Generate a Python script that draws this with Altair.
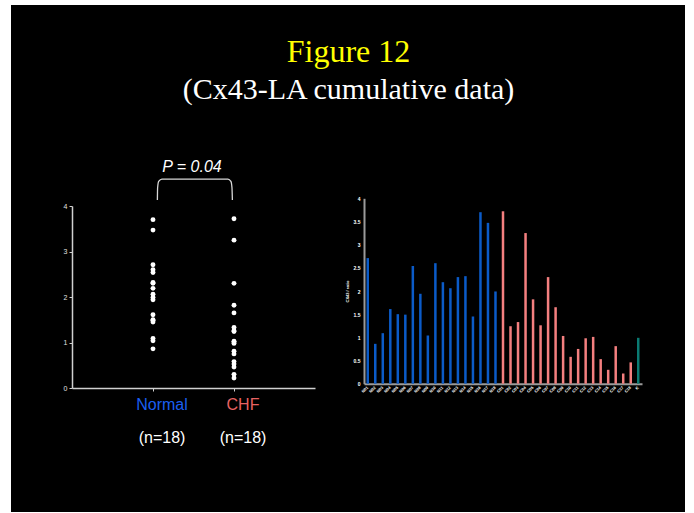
import altair as alt
import pandas as pd

# ---------------- data ----------------
normal_vals = [2.71, 0.86, 1.09, 1.61, 1.50, 1.49, 2.54, 1.94, 1.04,
               2.60, 2.19, 2.06, 2.30, 2.32, 1.45, 3.70, 3.47, 1.99]
chf_vals = [3.72, 1.24, 1.33, 3.25, 1.82, 1.26, 2.30, 1.65, 1.03,
            0.58, 0.75, 0.98, 1.01, 0.53, 0.30, 0.81, 0.22, 0.46]
control_vals = [0.99]
group_names = ["Normal", "CHF"]
group_counts = ["(n=18)", "(n=18)"]
scatter_ticks = [0, 1, 2, 3, 4]
bar_ticks = [0, 0.5, 1, 1.5, 2, 2.5, 3, 3.5, 4]
normal_ids = ["N%02d" % (i + 1) for i in range(len(normal_vals))]
chf_ids = ["C%02d" % (i + 1) for i in range(len(chf_vals))]
control_ids = ["K"]
cohorts = ["Normal", "CHF", "Control"]
cohort_colors = ["#0b5bc8", "#f47f7f", "#0a7a72"]
p_label = "P = 0.04"
title_text = "Figure 12"
subtitle_text = "(Cx43-LA cumulative data)"

# bracket outline (fraction of the Normal->CHF gap, value units)
bracket_x = [0.054, 0.057, 0.07, 0.11, 0.925, 0.962, 0.975, 0.98]
bracket_y = [4.13, 4.40, 4.54, 4.59, 4.59, 4.54, 4.40, 4.13]

# ---------------- tables ----------------
scatter_df = pd.DataFrame({
    "group": ["Normal"] * len(normal_vals) + ["CHF"] * len(chf_vals),
    "value": normal_vals + chf_vals,
})
label_df = pd.DataFrame({"group": group_names, "count": group_counts})
bar_ids = normal_ids + chf_ids + control_ids
bar_df = pd.DataFrame({
    "id": bar_ids,
    "value": normal_vals + chf_vals + control_vals,
    "cohort": ["Normal"] * len(normal_vals) + ["CHF"] * len(chf_vals)
              + ["Control"] * len(control_vals),
})
bracket_df = pd.DataFrame({"bx": bracket_x, "by": bracket_y,
                           "o": list(range(len(bracket_x)))})

W, H = 674, 507

# ---------------- left: scatter ----------------
xs = alt.Scale(domain=group_names, range=[61, 304], padding=1)
ys = alt.Scale(domain=[0, 4], range=[383, 201], nice=False, zero=False)

pts = alt.Chart(scatter_df).mark_circle(size=24, color="white", opacity=1).encode(
    x=alt.X("group:N", sort=group_names, scale=xs,
            axis=alt.Axis(orient="bottom", offset=-124, labels=False, title=None,
                          domainColor="#d0d0d0", domainWidth=1.5, tickColor="#d0d0d0",
                          tickSize=3, grid=False)),
    y=alt.Y("value:Q", scale=ys,
            axis=alt.Axis(orient="left", offset=-61, values=scatter_ticks, format="d",
                          title=None, labelColor="#e0e0e0", labelFontSize=7,
                          labelFont="Liberation Sans", labelPadding=2,
                          domainColor="#d0d0d0", domainWidth=1.5, tickColor="#d0d0d0",
                          tickSize=3, grid=False)),
)

names = alt.Chart(label_df).mark_text(fontSize=16, font="Liberation Sans", dx=9,
                                      baseline="middle").encode(
    x=alt.X("group:N", sort=group_names, scale=xs, axis=None),
    y=alt.value(400),
    text="group:N",
    color=alt.Color("group:N", scale=alt.Scale(domain=group_names,
                                               range=["#1a5ff0", "#e86262"]), legend=None),
)
counts = alt.Chart(label_df).mark_text(fontSize=16, font="Liberation Sans", dx=9,
                                       color="white", baseline="middle").encode(
    x=alt.X("group:N", sort=group_names, scale=xs, axis=None),
    y=alt.value(433),
    text="count:N",
)

bracket = alt.Chart(bracket_df).mark_line(color="#d8d8d8", strokeWidth=1.3,
                                          interpolate="monotone").encode(
    x=alt.X("bx:Q", scale=alt.Scale(domain=[0, 1], range=[142, 223]), axis=None),
    y=alt.Y("by:Q", scale=ys, axis=None),
    order="o:Q",
)

ptext = alt.Chart(pd.DataFrame({"t": [p_label]})).mark_text(
    fontSize=16, font="Liberation Sans", fontStyle="italic", color="white",
    baseline="alphabetic", align="center").encode(
    x=alt.value(181), y=alt.value(166.5), text="t:N")

# ---------------- right: bars ----------------
bars = alt.Chart(bar_df).mark_bar(size=2.5).encode(
    x=alt.X("id:N", sort=bar_ids,
            scale=alt.Scale(range=[353, 631], paddingInner=0, paddingOuter=0),
            axis=alt.Axis(orient="bottom", offset=-128.3, labelAngle=315,
                          labelAlign="right", labelBaseline="middle",
                          labelFontSize=4, labelFontWeight="bold", labelColor="white",
                          labelFont="Liberation Sans", labelPadding=3,
                          domainColor="#9a9a9a", domainWidth=2, ticks=False,
                          title=None, grid=False)),
    y=alt.Y("value:Q", scale=alt.Scale(domain=[0, 4], range=[378.7, 193.3], nice=False),
            axis=alt.Axis(orient="left", offset=-353, values=bar_ticks, format="~g",
                          labelFontSize=5, labelFontWeight="bold", labelColor="white",
                          labelFont="Liberation Sans", labelPadding=4,
                          domainColor="#9a9a9a", domainWidth=2, ticks=False, grid=False,
                          title="CX43 / ratio", titleFontSize=4, titleColor="white",
                          titleFont="Liberation Sans", titleFontWeight="bold",
                          titlePadding=4)),
    color=alt.Color("cohort:N", scale=alt.Scale(domain=cohorts, range=cohort_colors),
                    legend=None),
)

# ---------------- titles ----------------
t1 = alt.Chart(pd.DataFrame({"t": [title_text]})).mark_text(
    fontSize=32, font="Liberation Serif", color="#ffff00", align="center",
    baseline="alphabetic").encode(x=alt.value(337.5), y=alt.value(57), text="t:N")
t2 = alt.Chart(pd.DataFrame({"t": [subtitle_text]})).mark_text(
    fontSize=30, font="Liberation Serif", color="white", align="center",
    baseline="alphabetic").encode(x=alt.value(337.5), y=alt.value(94), text="t:N")

chart = alt.layer(pts, names, counts, bracket, ptext, bars, t1, t2).resolve_scale(
    x="independent", y="independent", color="independent"
).resolve_axis(
    x="independent", y="independent"
).properties(
    width=W, height=H,
    autosize=alt.AutoSizeParams(type="none"),
    padding={"left": 11, "top": 5, "right": 9, "bottom": 1},
    background="white",
).configure_view(fill="black", stroke=None)

chart.save("out.html", embed_options={"renderer": "svg", "actions": False})
